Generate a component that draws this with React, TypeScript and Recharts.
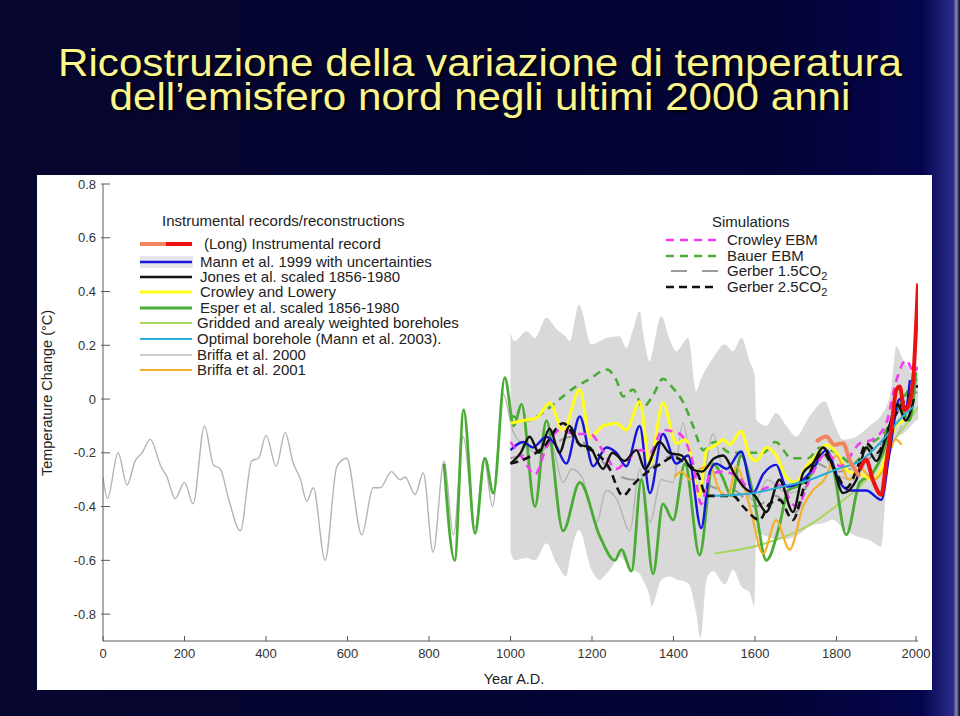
import React from 'react';
import { ComposedChart, Line, Area, XAxis, YAxis } from 'recharts';

const xTicks = [0, 200, 400, 600, 800, 1000, 1200, 1400, 1600, 1800, 2000];
const yTicks = [-0.8, -0.6, -0.4, -0.2, 0, 0.2, 0.4, 0.6, 0.8];

// Mann et al. 1999 uncertainty band
const bandYears = [1000, 1010, 1039, 1060, 1088, 1113, 1137, 1145, 1168, 1199, 1219, 1235, 1244, 1268, 1284, 1301, 1317, 1325, 1342, 1346, 1370, 1391, 1407, 1436, 1456, 1466, 1481, 1497, 1526, 1546, 1567, 1587, 1599, 1603, 1628, 1652, 1677, 1701, 1734, 1771, 1791, 1816, 1849, 1881, 1910, 1922, 1934, 1947, 1963, 1975, 1988, 2000];
const bandHigh = [0.246, 0.215, 0.252, 0.227, 0.302, 0.26, 0.23, 0.215, 0.351, 0.203, 0.215, 0.227, 0.23, 0.234, 0.19, 0.26, 0.327, 0.25, 0.14, 0.16, 0.308, 0.22, 0.178, 0.227, 0.029, 0.07, 0.116, 0.153, 0.203, 0.178, 0.227, 0.14, 0.09, -0.077, -0.1, -0.052, -0.1, -0.139, -0.064, -0.008, -0.077, -0.151, -0.139, -0.1, -0.06, -0.03, 0.035, 0.196, 0.146, 0.12, 0.084, 0.08];
const bandLow = [-0.57, -0.6, -0.59, -0.6, -0.536, -0.611, -0.66, -0.6, -0.487, -0.636, -0.673, -0.65, -0.636, -0.586, -0.61, -0.636, -0.65, -0.673, -0.74, -0.772, -0.673, -0.66, -0.67, -0.685, -0.8, -0.89, -0.673, -0.64, -0.69, -0.636, -0.698, -0.72, -0.772, -0.5, -0.51, -0.52, -0.52, -0.51, -0.474, -0.46, -0.449, -0.48, -0.51, -0.524, -0.549, -0.325, -0.2, -0.14, -0.13, -0.114, -0.09, -0.077];

const briffa2000: [number, number][] = [
  [0, -0.29], [11, -0.37], [37, -0.2], [59, -0.32], [79, -0.23], [96, -0.2], [116, -0.15], [142, -0.25], [157, -0.29], [177, -0.37], [200, -0.31], [221, -0.39], [249, -0.1], [271, -0.245], [288, -0.26], [308, -0.37], [337, -0.49], [365, -0.23], [382, -0.22], [400, -0.135], [425, -0.25], [447, -0.125], [467, -0.24], [484, -0.295], [500, -0.38], [516, -0.33], [545, -0.6], [574, -0.25], [598, -0.22], [635, -0.505], [663, -0.33], [680, -0.33], [708, -0.27], [729, -0.3], [741, -0.29], [766, -0.355], [786, -0.275], [810, -0.57], [837, -0.23], [860, -0.505], [884, -0.14], [913, -0.48], [935, -0.22], [956, -0.4], [982, 0.02], [1006, -0.12], [1040, -0.18], [1070, -0.2], [1100, -0.17], [1129, -0.31], [1150, -0.26], [1175, -0.29], [1211, -0.46], [1235, -0.34], [1260, -0.37], [1293, -0.49], [1317, -0.26], [1342, -0.46], [1370, -0.3], [1399, -0.31], [1423, -0.09], [1445, -0.25], [1465, -0.35], [1497, -0.13], [1520, -0.25], [1550, -0.27], [1600, -0.38], [1630, -0.3], [1680, -0.35], [1720, -0.33], [1760, -0.2], [1800, -0.28], [1840, -0.3], [1880, -0.22], [1920, -0.2], [1960, -0.1],
];

const esper: [number, number][] = [
  [837, -0.24], [863, -0.6], [885, -0.04], [913, -0.5], [937, -0.22], [958, -0.35], [986, 0.08], [1008, -0.1], [1027, -0.02], [1060, -0.4], [1088, -0.08], [1129, -0.49], [1170, -0.31], [1219, -0.51], [1256, -0.6], [1272, -0.56], [1297, -0.64], [1321, -0.3], [1350, -0.65], [1374, -0.39], [1399, -0.45], [1428, -0.24], [1464, -0.58], [1497, -0.24], [1520, -0.29], [1542, -0.36], [1566, -0.21], [1595, -0.35], [1628, -0.6], [1660, -0.47], [1681, -0.34], [1710, -0.32], [1742, -0.27], [1767, -0.18], [1791, -0.25], [1824, -0.505], [1857, -0.31], [1889, -0.275], [1914, -0.2], [1938, -0.08], [1955, -0.03], [1979, -0.08], [1995, 0.1],
];

const mann1999: [number, number][] = [
  [1000, -0.19], [1031, -0.16], [1055, -0.18], [1088, -0.14], [1110, -0.17], [1137, -0.24], [1170, -0.065], [1203, -0.25], [1235, -0.18], [1260, -0.2], [1284, -0.25], [1317, -0.1], [1342, -0.35], [1374, -0.13], [1407, -0.24], [1436, -0.21], [1468, -0.48], [1489, -0.27], [1505, -0.24], [1530, -0.26], [1566, -0.195], [1595, -0.35], [1620, -0.28], [1652, -0.245], [1677, -0.325], [1710, -0.31], [1742, -0.26], [1775, -0.19], [1808, -0.31], [1832, -0.34], [1873, -0.34], [1910, -0.375], [1930, -0.2], [1955, 0.0], [1970, -0.03], [1980, 0.07],
];

const jones: [number, number][] = [
  [1000, -0.24], [1025, -0.2], [1047, -0.14], [1070, -0.2], [1096, -0.11], [1120, -0.2], [1145, -0.1], [1170, -0.17], [1195, -0.18], [1227, -0.26], [1250, -0.2], [1280, -0.23], [1309, -0.19], [1330, -0.26], [1366, -0.16], [1390, -0.2], [1420, -0.21], [1445, -0.26], [1470, -0.27], [1500, -0.22], [1522, -0.21], [1550, -0.28], [1571, -0.325], [1600, -0.36], [1628, -0.42], [1660, -0.3], [1693, -0.42], [1718, -0.275], [1742, -0.24], [1767, -0.18], [1791, -0.25], [1816, -0.35], [1849, -0.3], [1873, -0.18], [1898, -0.23], [1920, -0.15], [1950, -0.02], [1970, -0.08], [1990, 0.0],
];

const crowleyLowery: [number, number][] = [
  [1000, -0.09], [1031, -0.08], [1064, -0.07], [1096, -0.015], [1129, -0.115], [1170, 0.035], [1195, -0.14], [1227, -0.1], [1260, -0.09], [1284, -0.115], [1317, -0.01], [1342, -0.24], [1374, -0.015], [1407, -0.165], [1430, -0.15], [1464, -0.36], [1481, -0.19], [1505, -0.17], [1522, -0.15], [1538, -0.17], [1566, -0.12], [1587, -0.21], [1603, -0.23], [1628, -0.18], [1652, -0.21], [1677, -0.29], [1701, -0.31], [1726, -0.25], [1750, -0.21], [1775, -0.17], [1800, -0.2], [1830, -0.27], [1860, -0.28], [1890, -0.3], [1920, -0.22], [1945, -0.1], [1965, -0.08],
];

const crowleyEBM: [number, number][] = [
  [1000, -0.16], [1030, -0.22], [1060, -0.28], [1088, -0.18], [1121, -0.115], [1160, -0.13], [1195, -0.13], [1230, -0.2], [1260, -0.26], [1290, -0.22], [1320, -0.19], [1342, -0.2], [1374, -0.115], [1415, -0.13], [1448, -0.24], [1468, -0.39], [1490, -0.28], [1520, -0.27], [1560, -0.29], [1595, -0.35], [1628, -0.33], [1660, -0.32], [1701, -0.4], [1740, -0.28], [1775, -0.2], [1810, -0.25], [1857, -0.165], [1889, -0.15], [1922, -0.09], [1947, 0.07], [1971, 0.145], [1990, 0.1], [2000, 0.12],
];

const bauerEBM: [number, number][] = [
  [1000, -0.06], [1040, -0.08], [1080, -0.05], [1113, -0.01], [1154, 0.04], [1195, 0.075], [1236, 0.11], [1260, 0.07], [1276, 0.01], [1301, 0.035], [1325, -0.03], [1350, 0.015], [1374, 0.075], [1399, 0.04], [1423, -0.01], [1448, -0.1], [1473, -0.19], [1500, -0.16], [1540, -0.2], [1580, -0.2], [1620, -0.2], [1650, -0.16], [1690, -0.22], [1730, -0.22], [1760, -0.18], [1800, -0.2], [1840, -0.24], [1880, -0.17], [1920, -0.12], [1950, -0.03], [1980, 0.04], [2000, 0.08],
];

const gerber25: [number, number][] = [
  [1000, -0.24], [1040, -0.22], [1080, -0.18], [1129, -0.09], [1170, -0.17], [1210, -0.2], [1240, -0.25], [1276, -0.36], [1300, -0.32], [1333, -0.275], [1370, -0.24], [1399, -0.215], [1430, -0.24], [1460, -0.28], [1481, -0.36], [1546, -0.36], [1571, -0.4], [1611, -0.45], [1635, -0.39], [1660, -0.375], [1693, -0.45], [1720, -0.33], [1742, -0.25], [1767, -0.2], [1791, -0.25], [1825, -0.33], [1850, -0.26], [1873, -0.165], [1900, -0.2], [1930, -0.1], [1960, -0.02], [2000, 0.05],
];

const gerber15: [number, number][] = [
  [1000, -0.22], [1050, -0.2], [1100, -0.17], [1150, -0.14], [1200, -0.19], [1250, -0.27], [1300, -0.3], [1350, -0.25], [1400, -0.21], [1450, -0.27], [1500, -0.33], [1550, -0.34], [1600, -0.4], [1650, -0.36], [1700, -0.42], [1750, -0.24], [1800, -0.27], [1850, -0.25], [1900, -0.19], [1950, -0.05], [2000, 0.03],
];

const briffa2001: [number, number][] = [
  [1402, -0.29], [1420, -0.27], [1440, -0.3], [1464, -0.26], [1489, -0.25], [1513, -0.34], [1534, -0.36], [1554, -0.25], [1587, -0.4], [1620, -0.575], [1652, -0.45], [1685, -0.56], [1718, -0.4], [1742, -0.34], [1770, -0.3], [1800, -0.21], [1830, -0.3], [1860, -0.26], [1890, -0.3], [1920, -0.25], [1945, -0.15], [1960, -0.17],
];

const griddedBoreholes: [number, number][] = [
  [1500, -0.575], [1628, -0.536], [1734, -0.468], [1808, -0.387], [1873, -0.3], [1930, -0.176], [1979, -0.077], [2000, -0.03],
];

const optimalBorehole: [number, number][] = [
  [1500, -0.36], [1595, -0.35], [1669, -0.325], [1734, -0.3], [1808, -0.257], [1857, -0.232], [1914, -0.151], [1955, -0.077], [1990, -0.027],
];

const longInstrumental: [number, number][] = [
  [1750, -0.158], [1775, -0.139], [1795, -0.17], [1816, -0.164], [1832, -0.226], [1857, -0.288],
];

const instrumental: [number, number][] = [
  [1857, -0.263], [1873, -0.226], [1889, -0.3], [1910, -0.356], [1922, -0.238], [1934, -0.114], [1947, 0.035], [1955, 0.047], [1967, -0.04], [1975, -0.03], [1988, 0.072], [1996, 0.295], [2000, 0.43],
];

const titleLines = ['Ricostruzione della variazione di temperatura', 'dell’emisfero nord negli ultimi 2000 anni'];

const toPts = (arr: [number, number][]) => arr.map(([year, v]) => ({ year, v }));
const bandData = bandYears.map((year, i) => ({ year, range: [bandLow[i], bandHigh[i]] }));

const FONT = '"Liberation Sans", Arial, Helvetica, sans-serif';

const series = [
  { key: 'briffa2000', data: briffa2000, color: '#b4b4b4', width: 1.4, dash: undefined },
  { key: 'gerber15', data: gerber15, color: '#9a9a9a', width: 2, dash: '14 12' },
  { key: 'griddedBoreholes', data: griddedBoreholes, color: '#a9d65e', width: 2, dash: undefined },
  { key: 'esper', data: esper, color: '#4aab35', width: 2.8, dash: undefined },
  { key: 'bauerEBM', data: bauerEBM, color: '#4aab35', width: 2.6, dash: '8 6' },
  { key: 'crowleyLowery', data: crowleyLowery, color: '#ffff1a', width: 3, dash: undefined },
  { key: 'briffa2001', data: briffa2001, color: '#f4b02c', width: 2.2, dash: undefined },
  { key: 'mann1999', data: mann1999, color: '#1515dd', width: 2.4, dash: undefined },
  { key: 'crowleyEBM', data: crowleyEBM, color: '#f23cf2', width: 2.6, dash: '8 6' },
  { key: 'jones', data: jones, color: '#111111', width: 2.4, dash: undefined },
  { key: 'gerber25', data: gerber25, color: '#111111', width: 2.6, dash: '8 5' },
  { key: 'optimalBorehole', data: optimalBorehole, color: '#2aaed6', width: 2, dash: undefined },
  { key: 'longInstrumental', data: longInstrumental, color: '#f2845e', width: 4, dash: undefined },
  { key: 'instrumental', data: instrumental, color: '#ee1111', width: 4, dash: undefined },
];

const AXIS = '#5a5a5a';
const TICK_FONT = 13;

const BottomTick = (p: any) => (
  <g>
    <line x1={p.x} x2={p.x} y1={p.y} y2={p.y - 5} stroke={AXIS} strokeWidth={1} />
    <text x={p.x} y={p.y + 17} textAnchor="middle" fontSize={TICK_FONT} fill="#333" fontFamily={FONT}>
      {p.payload.value}
    </text>
  </g>
);
const TopTick = (p: any) => (
  <line x1={p.x} x2={p.x} y1={p.y} y2={p.y + 5} stroke={AXIS} strokeWidth={1} />
);
const fmtY = (v: number) => (Math.abs(v) < 1e-9 ? '0' : v.toFixed(1));
const LeftTick = (p: any) => (
  <g>
    <line x1={p.x - 2} x2={p.x + 7} y1={p.y} y2={p.y} stroke={AXIS} strokeWidth={1} />
    <text x={p.x - 7} y={p.y + 4.5} textAnchor="end" fontSize={TICK_FONT} fill="#333" fontFamily={FONT}>
      {fmtY(p.payload.value)}
    </text>
  </g>
);
const RightTick = (p: any) => (
  <line x1={p.x - 7} x2={p.x} y1={p.y} y2={p.y} stroke={AXIS} strokeWidth={1} />
);

type LegendRow = { label: React.ReactNode; y: number; draw: React.ReactNode };

const sample = (color: string, width: number, dash?: string, x1 = 0, x2 = 52) => (
  <line x1={x1} x2={x2} y1={7} y2={7} stroke={color} strokeWidth={width} strokeDasharray={dash} />
);

const leftRows: LegendRow[] = [
  { label: '(Long) Instrumental record', y: 244, draw: <>{sample('#f2845e', 4, undefined, 0, 26)}{sample('#ee1111', 4, undefined, 26, 52)}</> },
  { label: 'Mann et al. 1999 with uncertainties', y: 262, draw: <><rect x={0} y={1} width={53} height={12} fill="#e6e6ea" />{sample('#1515dd', 2.4)}</> },
  { label: 'Jones et al. scaled 1856-1980', y: 277, draw: sample('#111', 2.4) },
  { label: 'Crowley and Lowery', y: 292, draw: sample('#ffff1a', 3) },
  { label: 'Esper et al. scaled 1856-1980', y: 307.5, draw: sample('#4aab35', 2.8) },
  { label: 'Gridded and arealy weighted boreholes', y: 322.5, draw: sample('#a9d65e', 2) },
  { label: 'Optimal borehole (Mann et al. 2003).', y: 338.5, draw: sample('#2aaed6', 2) },
  { label: 'Briffa et al. 2000', y: 354.5, draw: sample('#bdbdbd', 1.6) },
  { label: 'Briffa et al. 2001', y: 370, draw: sample('#f4b02c', 2.2) },
];
const leftTextX = [204, 200, 200, 200, 200, 197, 197, 197, 197];

const rightRows: LegendRow[] = [
  { label: 'Crowley EBM', y: 240, draw: sample('#f23cf2', 2.6, '8 6') },
  { label: 'Bauer EBM', y: 255.5, draw: sample('#4aab35', 2.6, '8 6') },
  { label: <>Gerber 1.5CO<sub style={{ fontSize: 11, verticalAlign: -4, lineHeight: 0 }}>2</sub></>, y: 271, draw: sample('#9a9a9a', 2, '16 15', 5, 52) },
  { label: <>Gerber 2.5CO<sub style={{ fontSize: 11, verticalAlign: -4, lineHeight: 0 }}>2</sub></>, y: 286.5, draw: sample('#111', 2.6, '8 5') },
];

const legendText: React.CSSProperties = {
  position: 'absolute',
  transform: 'translateY(-50%)',
  fontSize: 15,
  lineHeight: '12px',
  color: '#222',
  whiteSpace: 'nowrap',
};

export default function App() {
  return (
    <div
      style={{
        position: 'absolute',
        left: 0,
        top: 0,
        width: 960,
        height: 716,
        overflow: 'hidden',
        background: 'linear-gradient(90deg, #06062e 0%, #030336 80%, #05054c 96%, #2a2a8a 99.3%, #8a8aa8 99.6%, #05052e 100%)',
        fontFamily: FONT,
      }}
    >
      {titleLines.map((t, i) => (
        <div
          key={i}
          style={{
            position: 'absolute',
            left: 0,
            top: 50 + i * 34,
            width: 960,
            textAlign: 'center',
            color: '#fbf68e',
            fontSize: 38,
            lineHeight: '27px',
            textShadow: '2px 2px 2px #000',
            transform: 'scaleX(1.11)',
            transformOrigin: '480px 0',
            fontFamily: FONT,
            whiteSpace: 'nowrap',
          }}
        >
          {t}
        </div>
      ))}

      <div style={{ position: 'absolute', left: 37, top: 175, width: 895, height: 515, background: '#fff' }}>
        <ComposedChart width={895} height={515} margin={{ top: 9, right: 14, bottom: 14, left: 16 }}>
          <XAxis
            xAxisId={0}
            type="number"
            dataKey="year"
            domain={[0, 2000]}
            ticks={xTicks}
            allowDataOverflow
            height={35}
            tickSize={0}
            tickMargin={0}
            tick={<BottomTick />}
            stroke={AXIS}
          />
          <XAxis
            xAxisId="top"
            orientation="top"
            type="number"
            dataKey="year"
            domain={[0, 2000]}
            ticks={xTicks}
            height={0}
            tickSize={0}
            tickMargin={0}
            tick={<TopTick />}
            stroke={AXIS}
          />
          <YAxis
            yAxisId={0}
            type="number"
            domain={[-0.9, 0.8]}
            ticks={yTicks}
            allowDataOverflow
            width={50}
            tickSize={0}
            tickMargin={0}
            tick={<LeftTick />}
            stroke={AXIS}
          />
          <YAxis
            yAxisId="right"
            orientation="right"
            type="number"
            domain={[-0.9, 0.8]}
            ticks={yTicks}
            width={0}
            tickSize={0}
            tickMargin={0}
            tick={<RightTick />}
            stroke={AXIS}
          />
          <Area
            data={bandData}
            dataKey="range"
            type="monotone"
            fill="#d9d9d9"
            fillOpacity={1}
            stroke="none"
            isAnimationActive={false}
          />
          {series.map((s) => (
            <Line
              key={s.key}
              data={toPts(s.data)}
              dataKey="v"
              type="monotone"
              stroke={s.color}
              strokeWidth={s.width}
              strokeDasharray={s.dash}
              dot={false}
              activeDot={false}
              isAnimationActive={false}
            />
          ))}
        </ComposedChart>

        <div
          style={{
            position: 'absolute',
            left: 10,
            top: 218,
            transform: 'translate(-50%, -50%) rotate(-90deg)',
            fontSize: 14.5,
            color: '#222',
            whiteSpace: 'nowrap',
          }}
        >
          Temperature Change (°C)
        </div>
        <div
          style={{
            position: 'absolute',
            left: 477,
            top: 504,
            transform: 'translate(-50%, -50%)',
            fontSize: 14.5,
            color: '#222',
            whiteSpace: 'nowrap',
          }}
        >
          Year A.D.
        </div>
      </div>

      {/* Left legend */}
      <div style={{ ...legendText, left: 162, top: 221 }}>Instrumental records/reconstructions</div>
      {leftRows.map((r, i) => (
        <React.Fragment key={i}>
          <svg style={{ position: 'absolute', left: 140, top: r.y - 7 }} width={54} height={14}>
            {r.draw}
          </svg>
          <div style={{ ...legendText, left: leftTextX[i], top: r.y }}>{r.label}</div>
        </React.Fragment>
      ))}

      {/* Right legend */}
      <div style={{ ...legendText, left: 712, top: 222 }}>Simulations</div>
      {rightRows.map((r, i) => (
        <React.Fragment key={i}>
          <svg style={{ position: 'absolute', left: 666, top: r.y - 7 }} width={54} height={14}>
            {r.draw}
          </svg>
          <div style={{ ...legendText, left: 727, top: r.y }}>{r.label}</div>
        </React.Fragment>
      ))}
    </div>
  );
}
